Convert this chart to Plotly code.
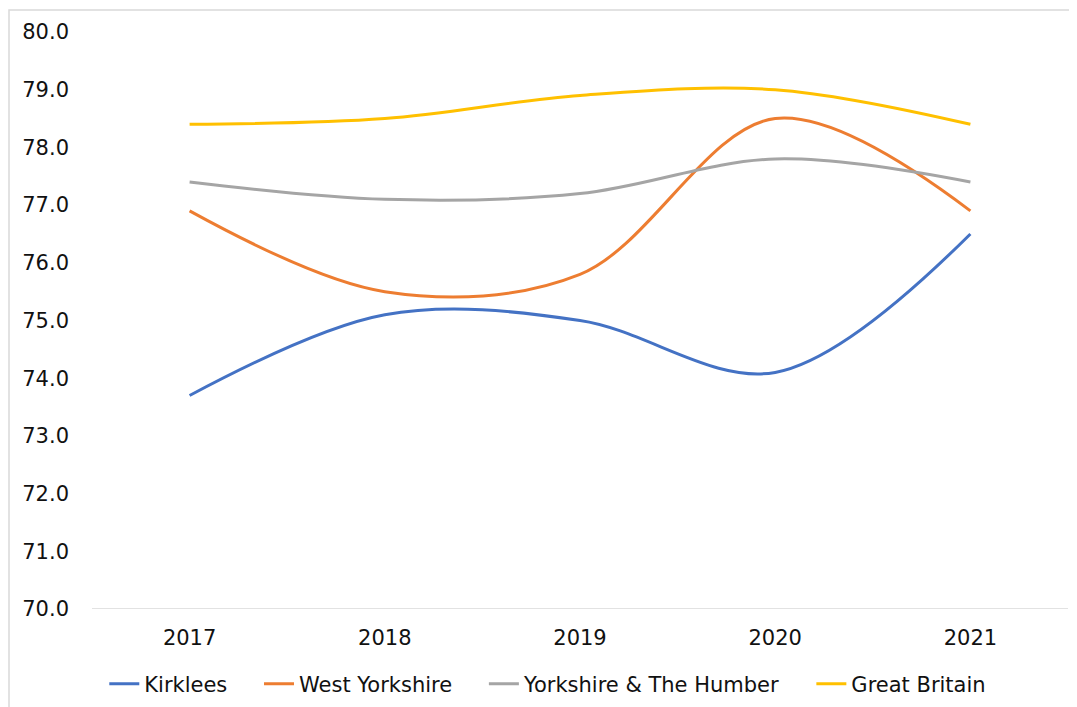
import plotly.graph_objects as go

years = ['2017', '2018', '2019', '2020', '2021']
kirklees = [73.7, 75.1, 75.0, 74.1, 76.5]
west_yorkshire = [76.9, 75.5, 75.8, 78.5, 76.9]
yorks_humber = [77.4, 77.1, 77.2, 77.8, 77.4]
great_britain = [78.4, 78.5, 78.9, 79.0, 78.4]
y_ticks = [70, 71, 72, 73, 74, 75, 76, 77, 78, 79, 80]

series = [
    ('Kirklees', kirklees, '#4472C4'),
    ('West Yorkshire', west_yorkshire, '#ED7D31'),
    ('Yorkshire & The Humber', yorks_humber, '#A5A5A5'),
    ('Great Britain', great_britain, '#FFC000'),
]

pad = '\u00a0' * 4  # extra room between legend entries
fig = go.Figure()
for i, (name, vals, color) in enumerate(series):
    label = name if i == len(series) - 1 else name + pad
    fig.add_trace(go.Scatter(
        x=years, y=vals, name=label, mode='lines',
        line=dict(color=color, width=3, shape='spline', smoothing=1.0),
    ))

# page body has an 8px margin, so offsets are taken off here
fig.update_layout(
    width=1077, height=707,
    margin=dict(l=84, r=17, t=24, b=106, autoexpand=False),
    paper_bgcolor='white', plot_bgcolor='white',
    font=dict(family='DejaVu Sans, sans-serif', size=21, color='#111111'),
    showlegend=True,
    legend=dict(
        orientation='h', x=0.467, xanchor='center', y=-0.13, yanchor='middle',
        itemwidth=30, font=dict(size=21), tracegroupgap=0,
    ),
)
fig.update_xaxes(
    type='category', range=[-0.5, 4.5], automargin=False,
    showline=False, showgrid=False, ticks='', ticklabelstandoff=14,
)
fig.update_yaxes(
    range=[70, 80], tickvals=y_ticks, tickformat='.1f', automargin=False,
    showgrid=False, zeroline=False, showline=False, ticks='',
    ticklabelstandoff=22,
)
# bottom axis line at 70
fig.add_shape(type='line', xref='paper', yref='y', x0=0, x1=1, y0=70, y1=70,
              line=dict(color='#d9d9d9', width=1.5), layer='below')
# chart frame (left and top edges visible)
fig.add_shape(type='rect', xref='paper', yref='paper',
              x0=(1 - 84) / 976, x1=1.05, y0=-0.3, y1=1 + 22 / 577,
              line=dict(color='#d9d9d9', width=1.5), layer='below')

fig.write_html("out.html")
